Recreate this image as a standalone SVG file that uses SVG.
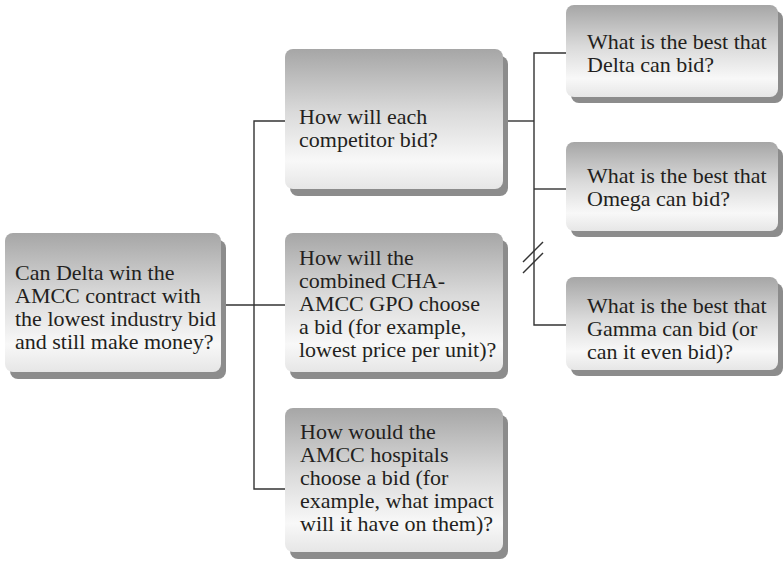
<svg xmlns="http://www.w3.org/2000/svg" width="784" height="565" viewBox="0 0 784 565">
  <defs>
    <linearGradient id="boxFill" x1="0" y1="0" x2="0" y2="1">
      <stop offset="0" stop-color="#a6a6a6"/>
      <stop offset="0.45" stop-color="#dadada"/>
      <stop offset="0.8" stop-color="#f8f8f8"/>
      <stop offset="1" stop-color="#e6e6e6"/>
    </linearGradient>
    <style>
      .shadow { fill: #8c8c8c; }
      .box { fill: url(#boxFill); }
      .label { font-family: "Liberation Serif", "Times New Roman", serif; font-size: 22px; fill: #231f20; }
      .wire { fill: none; stroke: #333333; stroke-width: 1.4; }
    </style>
  </defs>
  <rect width="784" height="565" fill="#ffffff"/>

  <!-- connectors -->
  <g id="connectors" class="wire">
    <path d="M224,305 H285"/>
    <path d="M285,121 H254 V489 H285"/>
    <path d="M507,121 H534"/>
    <path d="M566,53 H534 V325 H566"/>
    <path d="M534,189 H566"/>
    <!-- break mark -->
    <path d="M523,262 L543,242"/>
    <path d="M523,273 L543,253"/>
  </g>

  <!-- root question -->
  <g id="root">
    <rect class="shadow" x="10" y="240" width="216" height="139" rx="8"/>
    <rect class="box" x="5" y="233" width="216" height="139" rx="8"/>
    <text class="label" x="15" y="280">Can Delta win the</text>
    <text class="label" x="15" y="303">AMCC contract with</text>
    <text class="label" x="15" y="326">the lowest industry bid</text>
    <text class="label" x="15" y="349">and still make money?</text>
  </g>

  <!-- second level -->
  <g id="competitors">
    <rect class="shadow" x="290" y="56" width="218" height="140" rx="8"/>
    <rect class="box" x="285" y="49" width="218" height="140" rx="8"/>
    <text class="label" x="299" y="124">How will each</text>
    <text class="label" x="299" y="147">competitor bid?</text>
  </g>

  <g id="gpo">
    <rect class="shadow" x="290" y="240" width="218" height="139" rx="8"/>
    <rect class="box" x="285" y="233" width="218" height="139" rx="8"/>
    <text class="label" x="299" y="265">How will the</text>
    <text class="label" x="299" y="288">combined CHA-</text>
    <text class="label" x="299" y="311">AMCC GPO choose</text>
    <text class="label" x="299" y="334">a bid (for example,</text>
    <text class="label" x="299" y="357">lowest price per unit)?</text>
  </g>

  <g id="hospitals">
    <rect class="shadow" x="290" y="415" width="218" height="144" rx="8"/>
    <rect class="box" x="285" y="408" width="218" height="144" rx="8"/>
    <text class="label" x="300" y="439">How would the</text>
    <text class="label" x="300" y="462">AMCC hospitals</text>
    <text class="label" x="300" y="485">choose a bid (for</text>
    <text class="label" x="300" y="508">example, what impact</text>
    <text class="label" x="300" y="531">will it have on them)?</text>
  </g>

  <!-- third level -->
  <g id="delta">
    <rect class="shadow" x="571" y="11" width="212" height="92" rx="8"/>
    <rect class="box" x="566" y="5" width="212" height="92" rx="8"/>
    <text class="label" x="587" y="49">What is the best that</text>
    <text class="label" x="587" y="72">Delta can bid?</text>
  </g>

  <g id="omega">
    <rect class="shadow" x="571" y="148" width="212" height="89" rx="8"/>
    <rect class="box" x="566" y="142" width="212" height="89" rx="8"/>
    <text class="label" x="587" y="183">What is the best that</text>
    <text class="label" x="587" y="206">Omega can bid?</text>
  </g>

  <g id="gamma">
    <rect class="shadow" x="571" y="283" width="212" height="93" rx="8"/>
    <rect class="box" x="566" y="277" width="212" height="93" rx="8"/>
    <text class="label" x="587" y="313">What is the best that</text>
    <text class="label" x="587" y="336">Gamma can bid (or</text>
    <text class="label" x="587" y="359">can it even bid)?</text>
  </g>
</svg>
